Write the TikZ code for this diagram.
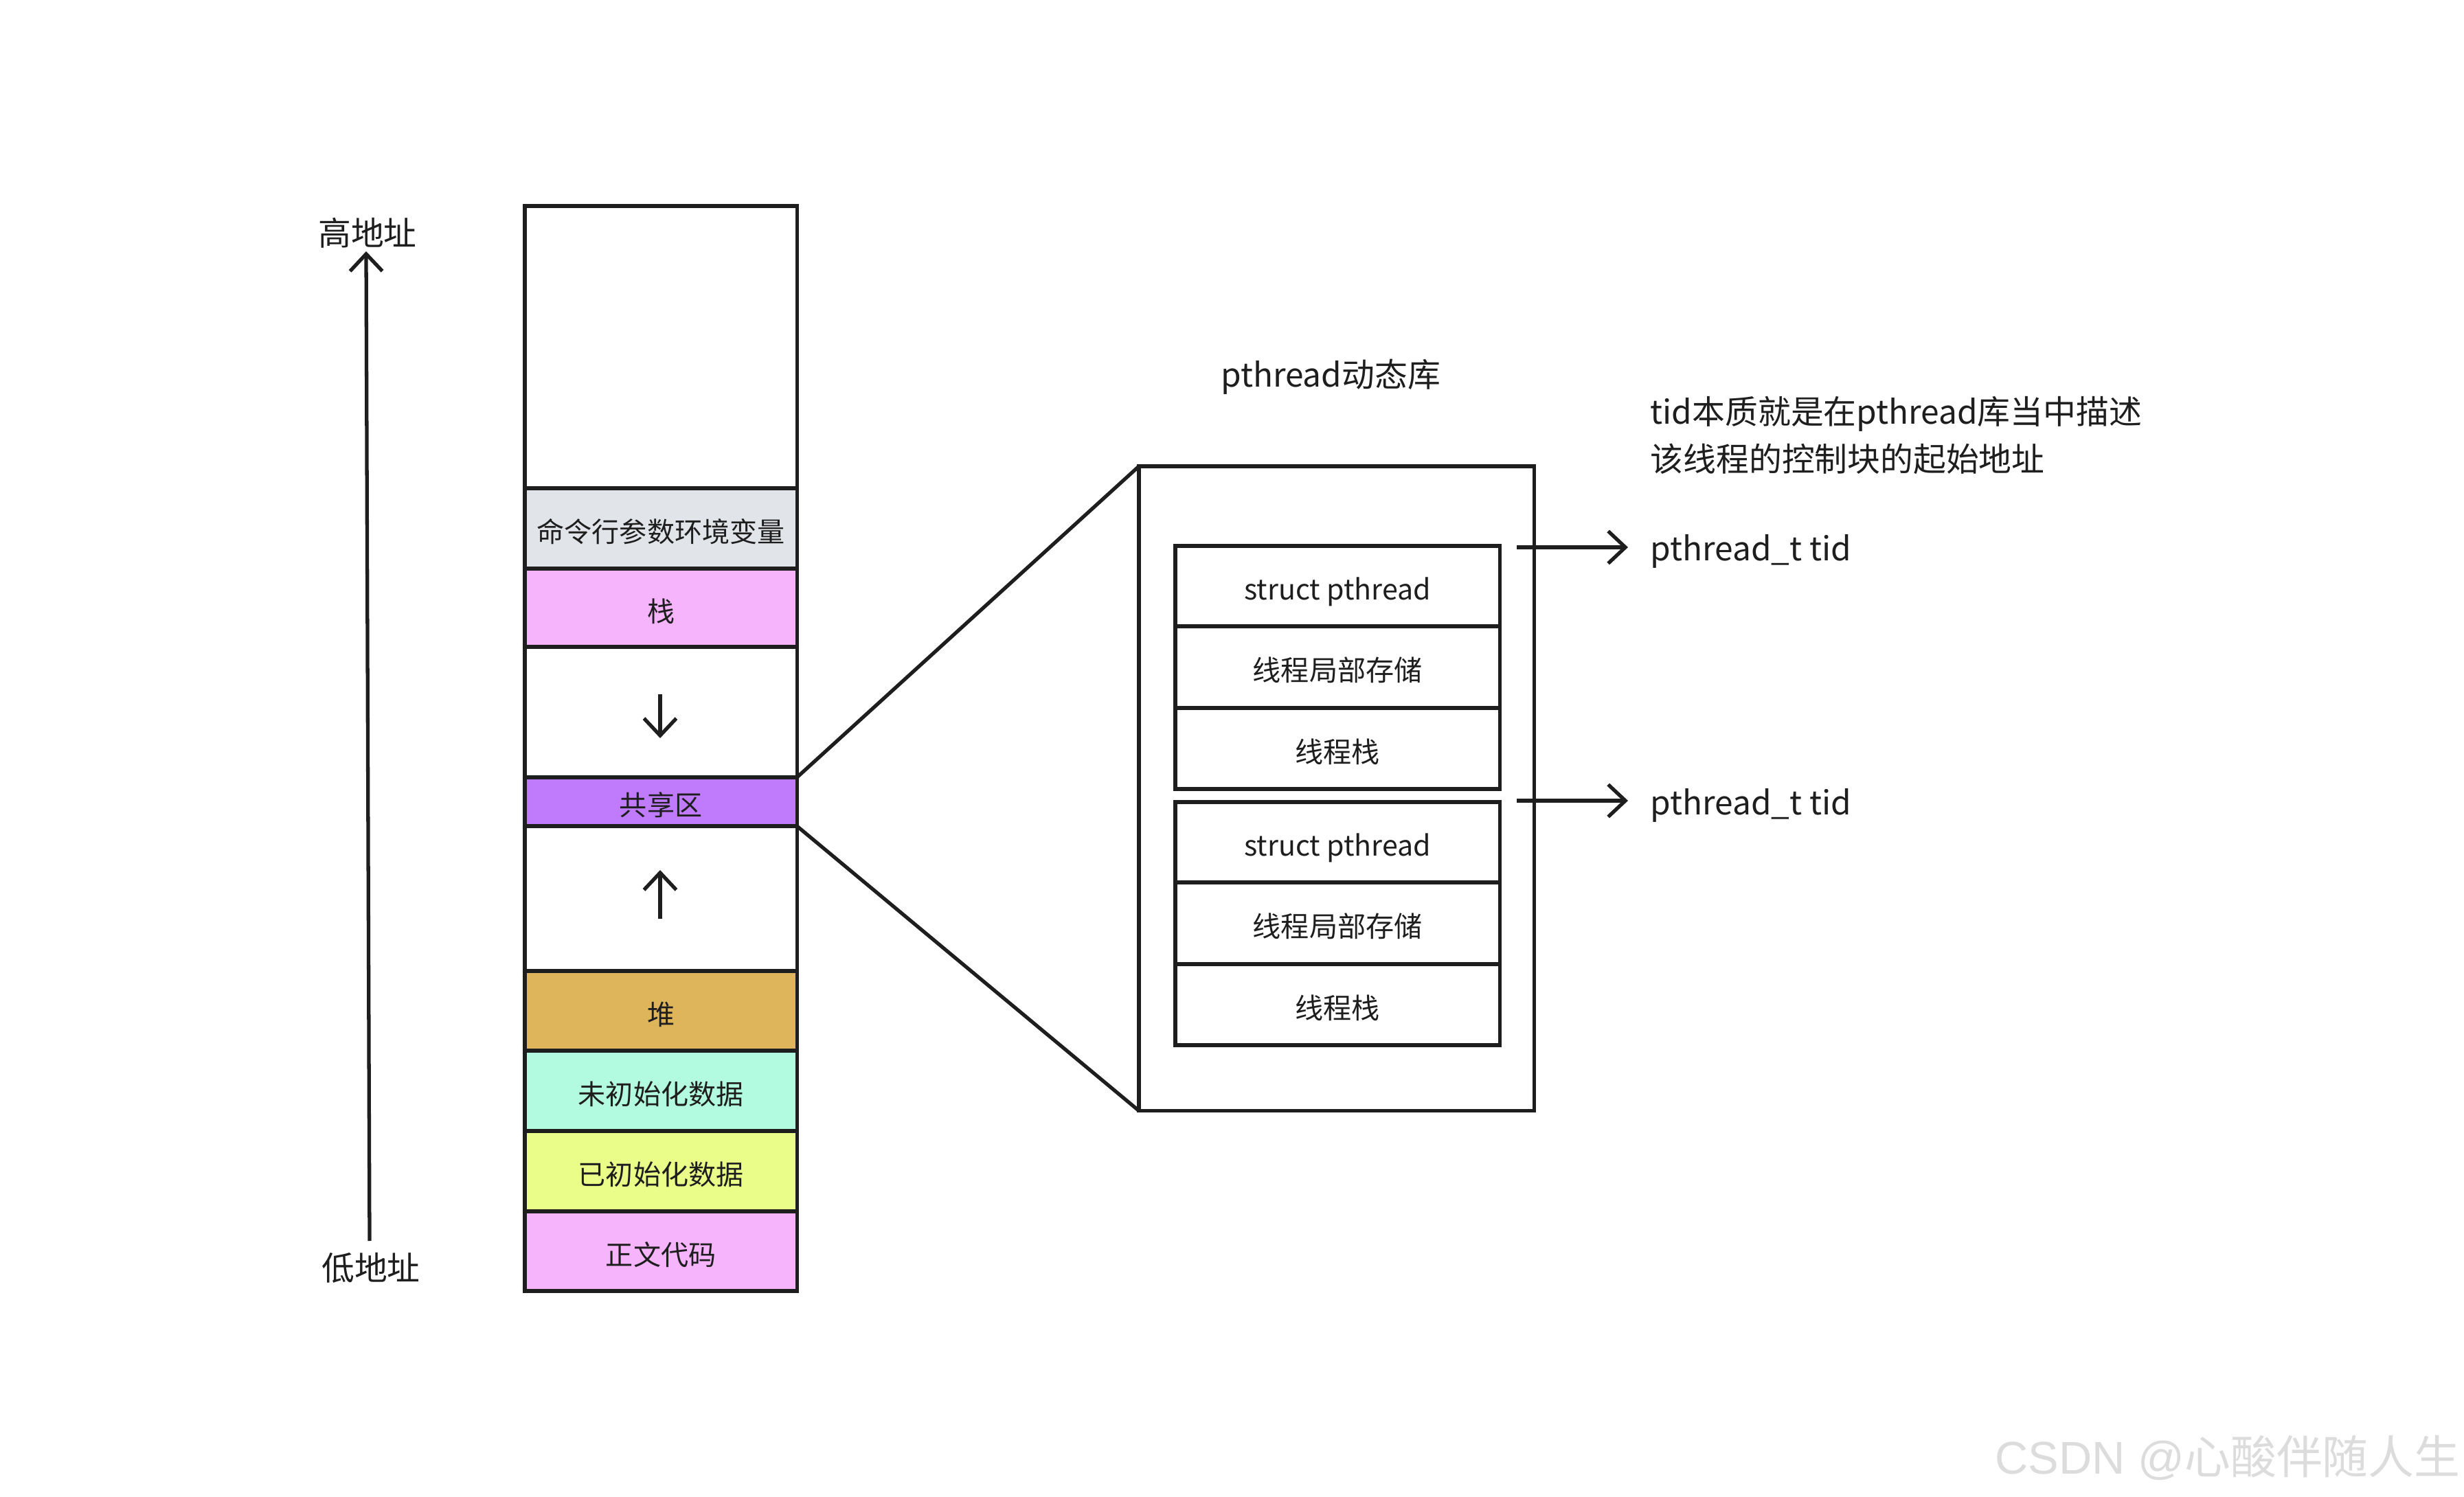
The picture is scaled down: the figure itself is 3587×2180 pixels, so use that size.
\documentclass[tikz,border=0pt]{standalone}
\usepackage{fontspec}
\setmainfont{Noto Sans CJK SC}
\newfontfamily\wmlatin{Liberation Sans}
\usetikzlibrary{arrows.meta}
\definecolor{ink}{HTML}{1E1E1E}
\definecolor{envgray}{HTML}{E1E4E8}
\definecolor{pinkc}{HTML}{F5B4FC}
\definecolor{purplec}{HTML}{C07BFD}
\definecolor{orangec}{HTML}{DFB55B}
\definecolor{mintc}{HTML}{B3FBE0}
\definecolor{yellowc}{HTML}{EAFD89}
\definecolor{wmgray}{HTML}{DCDCDC}
\begin{document}
\begin{tikzpicture}[x=0.01cm,y=-0.01cm,
  cell/.style={draw=ink, line width=1.5pt, minimum width=3.96cm, anchor=north west,
    inner sep=0pt, outer sep=0pt, text=ink, text height=1.16em, text depth=0em,
    font=\fontsize{11.4pt}{13pt}\selectfont},
  tcell/.style={draw=ink, line width=1.5pt, minimum width=4.72cm, anchor=north west,
    inner sep=0pt, outer sep=0pt, text=ink, text height=1.16em, text depth=0em,
    font=\fontsize{11.7pt}{13pt}\selectfont},
  biglabel/.style={inner sep=0pt, text=ink, font=\fontsize{13.6pt}{19.6pt}\selectfont},
  barb/.style={draw=ink, line width=1.5pt, -{Straight Barb[length=0.25cm,width=0.47cm,line width=1.5pt]}},
  link/.style={draw=ink, line width=1.5pt}
]
\fill[white] (0,0) rectangle (3587,2180);
\useasboundingbox (0,0) rectangle (3587,2180);

% memory column
\node[cell, minimum height=4.11cm] (top) at (764,300) {};
\node[cell, fill=envgray, minimum height=1.17cm] (env) at (764,711) {命令行参数环境变量};
\node[cell, fill=pinkc, minimum height=1.14cm] (stack) at (764,828) {栈};
\node[cell, minimum height=1.90cm] (gapa) at (764,942) {};
\node[cell, fill=purplec, minimum height=0.71cm] (shared) at (764,1132) {共享区};
\node[cell, minimum height=2.11cm] (gapb) at (764,1203) {};
\node[cell, fill=orangec, minimum height=1.16cm] (heap) at (764,1414) {堆};
\node[cell, fill=mintc, minimum height=1.17cm] (bss) at (764,1530) {未初始化数据};
\node[cell, fill=yellowc, minimum height=1.17cm] (data) at (764,1647) {已初始化数据};
\node[cell, fill=pinkc, minimum height=1.16cm] (text) at (764,1764) {正文代码};

% growth arrows
\coordinate (downs) at (961,1011);
\coordinate (downe) at (961,1075);
\draw[barb] (downs) -- (downe);
\coordinate (ups) at (961,1338);
\coordinate (upe) at (961,1267);
\draw[barb] (ups) -- (upe);

% address axis
\coordinate (lowend) at (538,1807);
\coordinate (highend) at (533,366);
\draw[barb] (lowend) -- (highend);
\node[biglabel] (high) at (535,339) {高地址};
\node[biglabel] (low) at (540,1846) {低地址};

% pthread library
\node[draw=ink, line width=1.5pt, minimum width=5.75cm, minimum height=9.38cm,
  anchor=north west, inner sep=0pt, outer sep=0pt] (lib) at (1658,679) {};
\node[biglabel] (libtitle) at (1937,549) {pthread动态库};

\node[tcell, minimum height=1.17cm] (sa) at (1711,795) {struct pthread};
\node[tcell, minimum height=1.19cm] (tlsa) at (1711,912) {线程局部存储};
\node[tcell, minimum height=1.18cm] (tsa) at (1711,1031) {线程栈};
\node[tcell, minimum height=1.17cm] (sb) at (1711,1168) {struct pthread};
\node[tcell, minimum height=1.19cm] (tlsb) at (1711,1285) {线程局部存储};
\node[tcell, minimum height=1.18cm] (tsb) at (1711,1404) {线程栈};

\draw[link] (shared.north east) -- (lib.north west);
\draw[link] (shared.south east) -- (lib.south west);

% tid arrows
\coordinate (tida) at (2208,797);
\coordinate (tidae) at (2370,797);
\draw[barb] (tida) -- (tidae);
\node[biglabel, anchor=west] (tidla) at (2402,803) {pthread\_t tid};
\coordinate (tidb) at (2208,1166);
\coordinate (tidbe) at (2370,1166);
\draw[barb] (tidb) -- (tidbe);
\node[biglabel, anchor=west] (tidlb) at (2402,1173) {pthread\_t tid};

\node[biglabel, anchor=west, align=left] (note) at (2402,634)
  {tid本质就是在pthread库当中描述\\该线程的控制块的起始地址};

% watermark
\node[anchor=east, inner sep=0pt, text=wmgray, font=\fontsize{19pt}{22pt}\selectfont] (wm) at (3582,2123)
  {{\wmlatin CSDN @}心酸伴随人生};
\end{tikzpicture}
\end{document}
